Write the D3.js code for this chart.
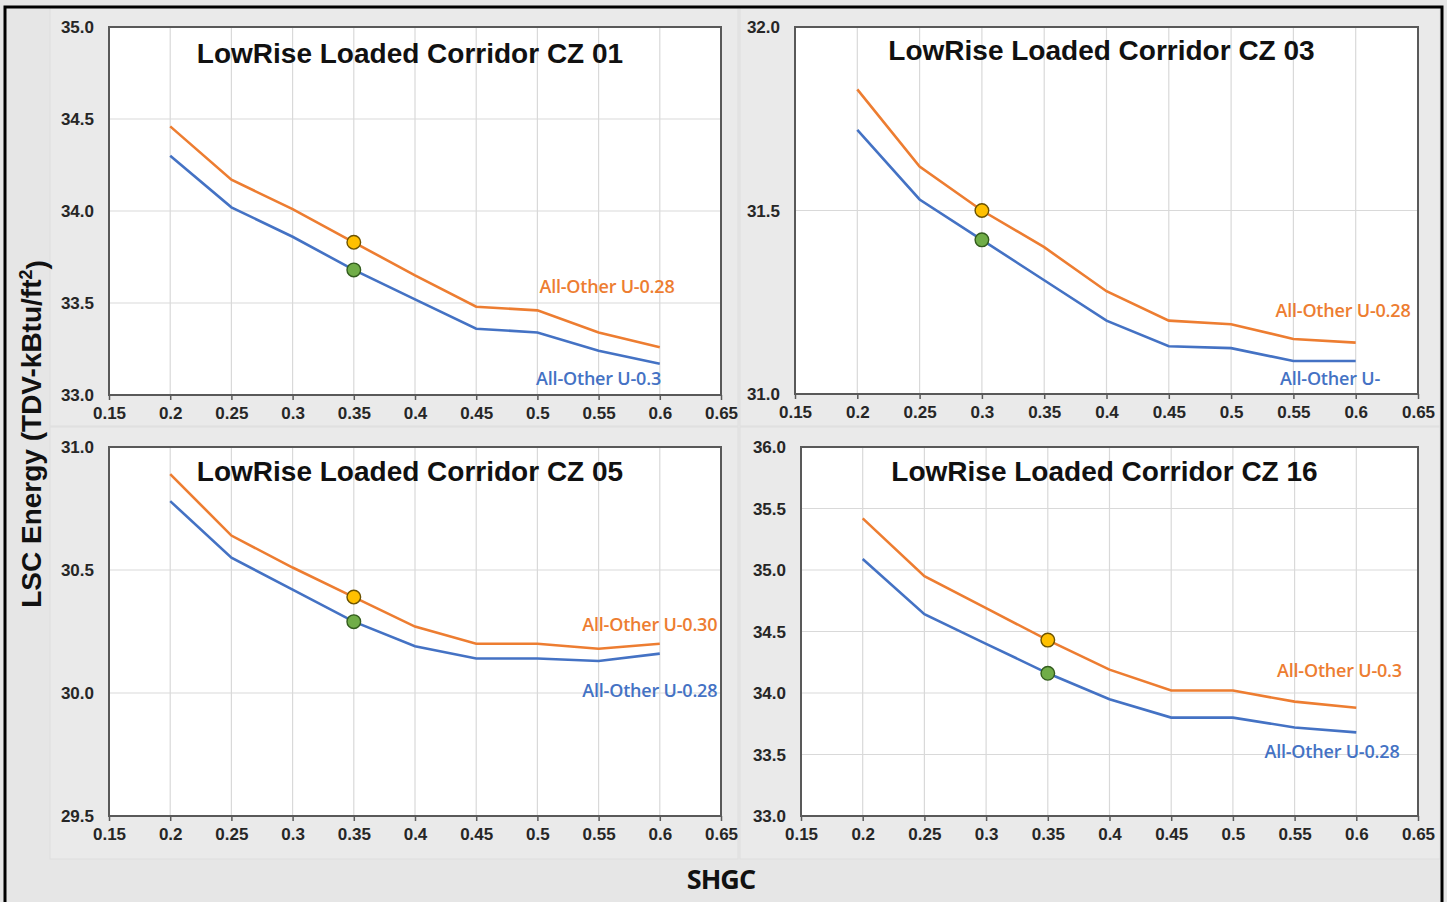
<!DOCTYPE html>
<html>
<head>
<meta charset="utf-8">
<script src="https://cdn.jsdelivr.net/npm/d3@7"></script>
<style>
  body { margin: 0; background: #e6e6e6; }
  svg { display: block; }
</style>
</head>
<body>
<svg width="1447" height="902"></svg>
<script>
// SHGC values (x) shared by every panel
const shgc = [0.2, 0.25, 0.3, 0.35, 0.4, 0.45, 0.5, 0.55, 0.6];
const xTicks = [0.15, 0.2, 0.25, 0.3, 0.35, 0.4, 0.45, 0.5, 0.55, 0.6, 0.65];

const titles = ['LowRise Loaded Corridor CZ 01', 'LowRise Loaded Corridor CZ 03',
                'LowRise Loaded Corridor CZ 05', 'LowRise Loaded Corridor CZ 16'];
const yDomains = [[33, 35], [31, 32], [29.5, 31], [33, 36]];

// orange = upper line, blue = lower line
const cz01Orange = [34.46, 34.17, 34.01, 33.83, 33.65, 33.48, 33.46, 33.34, 33.26];
const cz01Blue   = [34.30, 34.02, 33.86, 33.68, 33.52, 33.36, 33.34, 33.24, 33.17];
const cz03Orange = [31.83, 31.62, 31.50, 31.40, 31.28, 31.20, 31.19, 31.15, 31.14];
const cz03Blue   = [31.72, 31.53, 31.42, 31.31, 31.20, 31.13, 31.125, 31.09, 31.09];
const cz05Orange = [30.89, 30.64, 30.51, 30.39, 30.27, 30.20, 30.20, 30.18, 30.20];
const cz05Blue   = [30.78, 30.55, 30.42, 30.29, 30.19, 30.14, 30.14, 30.13, 30.16];
const cz16Orange = [35.42, 34.95, 34.69, 34.43, 34.19, 34.02, 34.02, 33.93, 33.88];
const cz16Blue   = [35.09, 34.64, 34.40, 34.16, 33.95, 33.80, 33.80, 33.72, 33.68];

const orangeSeries = [cz01Orange, cz03Orange, cz05Orange, cz16Orange];
const blueSeries = [cz01Blue, cz03Blue, cz05Blue, cz16Blue];

// highlighted point per panel (index into shgc)
const markerIndex = [3, 2, 3, 3];

const orangeLabels = ['All-Other U-0.28', 'All-Other U-0.28', 'All-Other U-0.30', 'All-Other U-0.3'];
const blueLabels = ['All-Other U-0.3', 'All-Other U-', 'All-Other U-0.28', 'All-Other U-0.28'];
// label anchors in data units: [x end, y]
const orangeLabelAt = [[0.612, 33.59], [0.644, 31.226], [0.647, 30.276], [0.637, 34.18]];
const blueLabelAt = [[0.601, 33.09], [0.6195, 31.041], [0.647, 30.008], [0.635, 33.52]];

const ORANGE = '#ed7d31';
const BLUE = '#4472c4';

const svg = d3.select('svg');

svg.append('rect').attr('x', 0).attr('y', 0).attr('width', 1447).attr('height', 902).attr('fill', '#e6e6e6');

// panel layout (pixel boxes)
const panels = [
  { bg: [50, 8, 688, 418], plot: [109, 27, 721, 395], titleY: 63 },
  { bg: [740, 8, 700, 418], plot: [795, 27, 1418, 394], titleY: 60 },
  { bg: [50, 427, 688, 432], plot: [109, 447, 721, 816], titleY: 481 },
  { bg: [740, 427, 700, 432], plot: [801, 447, 1418, 816], titleY: 481 }
];

panels.forEach((p, i) => {
  svg.append('rect')
    .attr('x', p.bg[0]).attr('y', p.bg[1])
    .attr('width', p.bg[2]).attr('height', p.bg[3])
    .attr('fill', '#eaeaea')
    .attr('stroke', '#dedede');

  const [x0, y0, x1, y1] = p.plot;
  const xScale = d3.scaleLinear().domain([0.15, 0.65]).range([x0, x1]);
  const yScale = d3.scaleLinear().domain(yDomains[i]).range([y1, y0]);
  const yTicks = d3.range(yDomains[i][0], yDomains[i][1] + 0.001, 0.5);

  const g = svg.append('g');

  g.append('rect')
    .attr('x', x0).attr('y', y0)
    .attr('width', x1 - x0).attr('height', y1 - y0)
    .attr('fill', '#ffffff');

  // gridlines
  g.selectAll('.vgrid').data(xTicks.slice(1, -1)).enter().append('line')
    .attr('x1', d => xScale(d)).attr('x2', d => xScale(d))
    .attr('y1', y0).attr('y2', y1)
    .attr('stroke', '#d9d9d9').attr('stroke-width', 1.2);
  g.selectAll('.hgrid').data(yTicks.slice(1, -1)).enter().append('line')
    .attr('x1', x0).attr('x2', x1)
    .attr('y1', d => yScale(d)).attr('y2', d => yScale(d))
    .attr('stroke', '#d9d9d9').attr('stroke-width', 1.2);

  // axes
  const xAxis = g.append('g')
    .attr('transform', `translate(0,${y1})`)
    .call(d3.axisBottom(xScale).tickValues(xTicks).tickSize(5).tickSizeOuter(0)
      .tickFormat(d => String(+d.toFixed(2))));
  const yAxis = g.append('g')
    .attr('transform', `translate(${x0},0)`)
    .call(d3.axisLeft(yScale).tickValues(yTicks).tickSize(0).tickPadding(15)
      .tickFormat(d3.format('.1f')));

  [xAxis, yAxis].forEach(a => {
    a.select('.domain').remove();
    a.selectAll('line').attr('stroke', '#595959').attr('stroke-width', 1.5);
    a.selectAll('text')
      .attr('fill', '#262626')
      .style('font-family', 'Liberation Sans, Arial, sans-serif')
      .style('font-weight', 'bold')
      .style('font-size', '17px');
  });
  xAxis.selectAll('text').attr('dy', '0.95em');
  yAxis.selectAll('text').attr('dy', '0.35em');

  // plot frame
  g.append('rect')
    .attr('x', x0).attr('y', y0)
    .attr('width', x1 - x0).attr('height', y1 - y0)
    .attr('fill', 'none')
    .attr('stroke', '#595959').attr('stroke-width', 2);

  // title
  g.append('text')
    .attr('x', (x0 + x1) / 2 - 5)
    .attr('y', p.titleY)
    .attr('text-anchor', 'middle')
    .text(titles[i])
    .style('font-family', 'Liberation Sans, Arial, sans-serif')
    .style('font-weight', 'bold')
    .style('font-size', '28px')
    .attr('fill', '#111');

  const line = d3.line()
    .x((d, j) => xScale(shgc[j]))
    .y(d => yScale(d));

  g.append('path').datum(orangeSeries[i])
    .attr('d', line).attr('fill', 'none')
    .attr('stroke', ORANGE).attr('stroke-width', 2.6);
  g.append('path').datum(blueSeries[i])
    .attr('d', line).attr('fill', 'none')
    .attr('stroke', BLUE).attr('stroke-width', 2.6);

  const k = markerIndex[i];
  g.append('circle')
    .attr('cx', xScale(shgc[k])).attr('cy', yScale(orangeSeries[i][k]))
    .attr('r', 6.8)
    .attr('fill', '#ffc000').attr('stroke', '#6b5200').attr('stroke-width', 1.4);
  g.append('circle')
    .attr('cx', xScale(shgc[k])).attr('cy', yScale(blueSeries[i][k]))
    .attr('r', 6.8)
    .attr('fill', '#70ad47').attr('stroke', '#335c1e').attr('stroke-width', 1.4);

  // series labels
  const labelFont = 'Open Sans, Lato, sans-serif';
  g.append('text')
    .attr('x', xScale(orangeLabelAt[i][0]))
    .attr('y', yScale(orangeLabelAt[i][1]))
    .attr('dy', '0.35em')
    .attr('text-anchor', 'end')
    .text(orangeLabels[i])
    .attr('fill', ORANGE)
    .style('font-family', labelFont)
    .style('font-weight', 600)
    .style('font-size', '18px')
    .style('letter-spacing', '-0.2px');
  g.append('text')
    .attr('x', xScale(blueLabelAt[i][0]))
    .attr('y', yScale(blueLabelAt[i][1]))
    .attr('dy', '0.35em')
    .attr('text-anchor', 'end')
    .text(blueLabels[i])
    .attr('fill', BLUE)
    .style('font-family', labelFont)
    .style('font-weight', 600)
    .style('font-size', '18px')
    .style('letter-spacing', '-0.2px');
});

// shared axis titles
svg.append('text')
  .attr('transform', 'translate(41,434) rotate(-90)')
  .attr('text-anchor', 'middle')
  .style('font-family', 'Liberation Sans, Arial, sans-serif')
  .style('font-weight', 'bold')
  .style('font-size', '28px')
  .attr('fill', '#111')
  .call(t => {
    t.append('tspan').text('LSC Energy (TDV-kBtu/ft');
    t.append('tspan').text('2').attr('dy', '-0.5em').style('font-size', '18px');
    t.append('tspan').text(')').attr('dy', '0.5em');
  });

svg.append('text')
  .attr('x', 721)
  .attr('y', 889)
  .attr('text-anchor', 'middle')
  .style('font-family', 'Open Sans, sans-serif')
  .style('font-weight', 'bold')
  .style('font-size', '27px')
  .style('letter-spacing', '-1px')
  .attr('fill', '#111')
  .text('SHGC');

// black border (left, top, right)
svg.append('path')
  .attr('d', 'M5,902 V7 H1442 V902')
  .attr('fill', 'none')
  .attr('stroke', '#000')
  .attr('stroke-width', 3);
</script>
</body>
</html>
